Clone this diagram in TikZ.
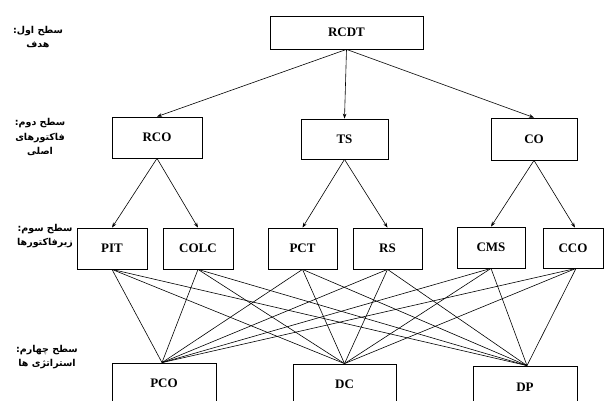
\documentclass[tikz,border=0pt]{standalone}
\usepackage{fontspec}
\setmainfont{Liberation Serif}
\newfontfamily\arabicfont[Script=Arabic]{DejaVu Sans}
\TeXXeTstate=1
\usetikzlibrary{arrows.meta}
\begin{document}
\begin{tikzpicture}[x=1pt,y=-1pt,
  boxnode/.style={draw=black,line width=0.8pt,inner sep=0pt,
    font=\fontsize{13}{15}\selectfont\bfseries},
  lvl/.style={align=center,inner sep=0pt,
    font=\arabicfont\bfseries\fontsize{9.5}{14.5}\selectfont},
  arr/.style={-{Stealth[length=5pt,width=3.6pt]},line width=0.6pt},
  ln/.style={line width=0.6pt}]
\useasboundingbox (0,0) rectangle (605,401);
\clip (0,0) rectangle (605,401);
% level labels
\node[lvl] (l1) at (38,37) {\beginR سطح اول:\endR\\\beginR هدف\endR};
\node[lvl] (l2) at (40,137) {\beginR سطح دوم:\endR\\\beginR فاکتورهای\endR\\\beginR اصلی\endR};
\node[lvl] (l3) at (45,236) {\beginR سطح سوم:\endR\\\beginR زیرفاکتورها\endR};
\node[lvl] (l4) at (47,357) {\beginR سطح چهارم:\endR\\\beginR استراتژی ها\endR};
% level 1
\node[boxnode,minimum width=153pt,minimum height=33pt] (rcdt) at (346.5,32.5) {RCDT};
% level 2
\node[boxnode,minimum width=90pt,minimum height=41pt] (rco) at (157,137.5) {RCO};
\node[boxnode,minimum width=87pt,minimum height=40pt] (ts) at (344.5,139) {TS};
\node[boxnode,minimum width=86pt,minimum height=42pt] (co) at (534,139) {CO};
% level 3
\node[boxnode,minimum width=70pt,minimum height=41pt] (pit) at (112,248.5) {PIT};
\node[boxnode,minimum width=70pt,minimum height=41pt] (colc) at (198,248.5) {COLC};
\node[boxnode,minimum width=69pt,minimum height=41pt] (pct) at (302.5,248.5) {PCT};
\node[boxnode,minimum width=69pt,minimum height=41pt] (rs) at (387.5,248.5) {RS};
\node[boxnode,minimum width=68pt,minimum height=41pt] (cms) at (491,247.5) {CMS};
\node[boxnode,minimum width=60pt,minimum height=40pt] (cco) at (573,248) {CCO};
% level 4
\node[boxnode,minimum width=104pt,minimum height=40pt] (pco) at (164,383) {PCO};
\node[boxnode,minimum width=103pt,minimum height=40pt] (dc) at (344.5,384) {DC};
\node[boxnode,minimum width=104pt,minimum height=42pt] (dp) at (525,387) {DP};
% arrows level 1 -> 2
\draw[arr] (rcdt.south) -- (rco.north);
\draw[arr] (rcdt.south) -- (ts.north);
\draw[arr] (rcdt.south) -- (co.north);
% arrows level 2 -> 3
\draw[arr] (rco.south) -- (pit.north);
\draw[arr] (rco.south) -- (colc.north);
\draw[arr] (ts.south) -- (pct.north);
\draw[arr] (ts.south) -- (rs.north);
\draw[arr] (co.south) -- (cms.north);
\draw[arr] (co.south) -- ([xshift=2pt]cco.north);
% lines level 3 -> 4
\foreach \a in {pit,colc,pct,rs,cms}{
  \draw[ln] (\a.south) -- ([xshift=-2pt]pco.north);
  \draw[ln] (\a.south) -- (dc.north);
  \draw[ln] (\a.south) -- ([xshift=2pt]dp.north);
}
\draw[ln] ([xshift=3pt]cco.south) -- ([xshift=-2pt]pco.north);
\draw[ln] ([xshift=3pt]cco.south) -- (dc.north);
\draw[ln] ([xshift=3pt]cco.south) -- ([xshift=2pt]dp.north);
\end{tikzpicture}
\end{document}
